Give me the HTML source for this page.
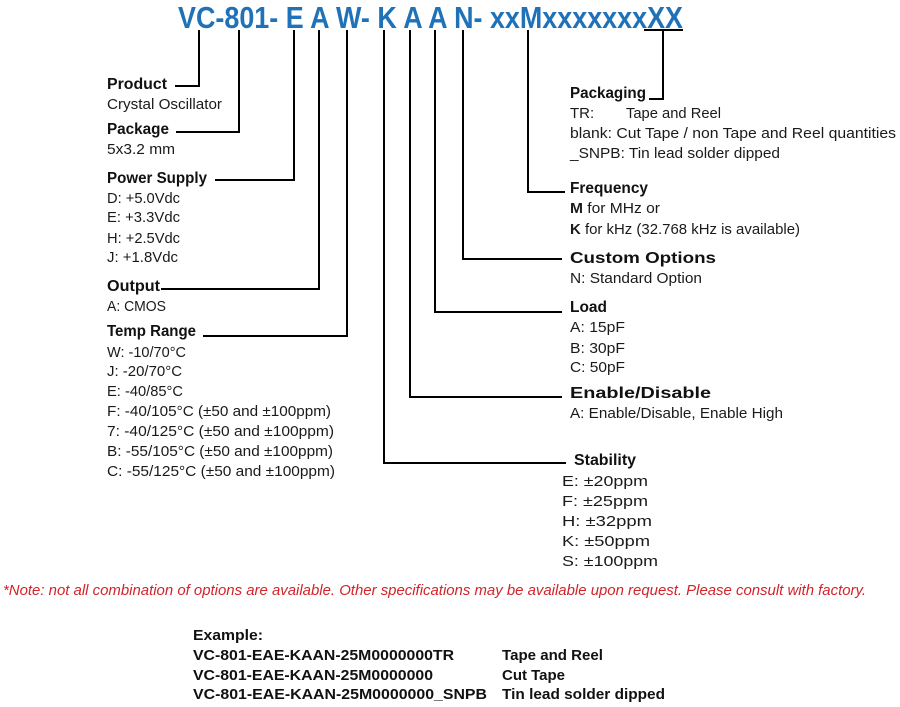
<!DOCTYPE html>
<html><head><meta charset="utf-8"><style>
html,body{margin:0;padding:0;background:#fff;width:900px;height:707px;overflow:hidden}
svg{display:block}
text{font-family:"Liberation Sans",Arial,sans-serif;font-size:15px;fill:#1a1a1a}
.b{font-weight:bold;font-size:15.5px;fill:#111}
.eb{font-weight:bold;font-size:14.5px;fill:#111}
</style></head><body>
<svg width="900" height="707" viewBox="0 0 900 707">
<text x="178" y="28" style="font-size:31px;font-weight:bold;fill:#1f72b8" textLength="505" lengthAdjust="spacingAndGlyphs">VC-801- E A W- K A A N- xxMxxxxxxxXX</text>
<g stroke="#000" stroke-width="2" fill="none">
<polyline points="199,30 199,86 175,86"/>
<polyline points="239,30 239,132 176,132"/>
<polyline points="294,30 294,180 215,180"/>
<polyline points="319,30 319,289 161,289"/>
<polyline points="347,30 347,336 203,336"/>
<polyline points="384,30 384,463 566,463"/>
<polyline points="410,30 410,397 562,397"/>
<polyline points="435,30 435,312 562,312"/>
<polyline points="463,30 463,259 562,259"/>
<polyline points="528,30 528,192 565,192"/>
<line x1="644" y1="30" x2="683" y2="30"/>
<polyline points="663,30 663,99 649,99"/>
</g>
<text class="b" x="107" y="89" textLength="60" lengthAdjust="spacingAndGlyphs">Product</text>
<text x="107" y="109" textLength="115" lengthAdjust="spacingAndGlyphs">Crystal Oscillator</text>
<text class="b" x="107" y="134" textLength="62" lengthAdjust="spacingAndGlyphs">Package</text>
<text x="107" y="154" textLength="68" lengthAdjust="spacingAndGlyphs">5x3.2 mm</text>
<text class="b" x="107" y="183" textLength="100" lengthAdjust="spacingAndGlyphs">Power Supply</text>
<text x="107" y="203" textLength="73" lengthAdjust="spacingAndGlyphs">D: +5.0Vdc</text>
<text x="107" y="222" textLength="73" lengthAdjust="spacingAndGlyphs">E: +3.3Vdc</text>
<text x="107" y="243" textLength="73" lengthAdjust="spacingAndGlyphs">H: +2.5Vdc</text>
<text x="107" y="262" textLength="71" lengthAdjust="spacingAndGlyphs">J: +1.8Vdc</text>
<text class="b" x="107" y="291" textLength="53" lengthAdjust="spacingAndGlyphs">Output</text>
<text x="107" y="311" textLength="59" lengthAdjust="spacingAndGlyphs">A: CMOS</text>
<text class="b" x="107" y="336" textLength="89" lengthAdjust="spacingAndGlyphs">Temp Range</text>
<text x="107" y="357" textLength="79" lengthAdjust="spacingAndGlyphs">W: -10/70°C</text>
<text x="107" y="376" textLength="75" lengthAdjust="spacingAndGlyphs">J:  -20/70°C</text>
<text x="107" y="396" textLength="76" lengthAdjust="spacingAndGlyphs">E:  -40/85°C</text>
<text x="107" y="416" textLength="224" lengthAdjust="spacingAndGlyphs">F:  -40/105°C (±50 and ±100ppm)</text>
<text x="107" y="436" textLength="227" lengthAdjust="spacingAndGlyphs">7:  -40/125°C (±50 and ±100ppm)</text>
<text x="107" y="456" textLength="226" lengthAdjust="spacingAndGlyphs">B:  -55/105°C (±50 and ±100ppm)</text>
<text x="107" y="476" textLength="228" lengthAdjust="spacingAndGlyphs">C:  -55/125°C (±50 and ±100ppm)</text>
<text class="b" x="570" y="98" textLength="76" lengthAdjust="spacingAndGlyphs">Packaging</text>
<text x="570" y="118">TR:</text>
<text x="626" y="118" textLength="95" lengthAdjust="spacingAndGlyphs">Tape and Reel</text>
<text x="570" y="138" textLength="326" lengthAdjust="spacingAndGlyphs">blank:  Cut Tape / non Tape and Reel quantities</text>
<text x="570" y="158" textLength="210" lengthAdjust="spacingAndGlyphs">_SNPB: Tin lead solder dipped</text>
<text class="b" x="570" y="193" textLength="78" lengthAdjust="spacingAndGlyphs">Frequency</text>
<text x="570" y="213" textLength="90" lengthAdjust="spacingAndGlyphs"><tspan style="font-weight:bold">M</tspan> for MHz or</text>
<text x="570" y="234" textLength="230" lengthAdjust="spacingAndGlyphs"><tspan style="font-weight:bold">K</tspan> for kHz (32.768 kHz is available)</text>
<text class="b" x="570" y="263" textLength="146" lengthAdjust="spacingAndGlyphs">Custom Options</text>
<text x="570" y="283" textLength="132" lengthAdjust="spacingAndGlyphs">N: Standard Option</text>
<text class="b" x="570" y="312" textLength="37" lengthAdjust="spacingAndGlyphs">Load</text>
<text x="570" y="332" textLength="55" lengthAdjust="spacingAndGlyphs">A: 15pF</text>
<text x="570" y="353" textLength="55" lengthAdjust="spacingAndGlyphs">B: 30pF</text>
<text x="570" y="372" textLength="55" lengthAdjust="spacingAndGlyphs">C: 50pF</text>
<text class="b" x="570" y="398" textLength="141" lengthAdjust="spacingAndGlyphs">Enable/Disable</text>
<text x="570" y="418" textLength="213" lengthAdjust="spacingAndGlyphs">A: Enable/Disable, Enable High</text>
<text class="b" x="574" y="465" textLength="62" lengthAdjust="spacingAndGlyphs">Stability</text>
<text x="562" y="486" textLength="86" lengthAdjust="spacingAndGlyphs">E: ±20ppm</text>
<text x="562" y="506" textLength="86" lengthAdjust="spacingAndGlyphs">F: ±25ppm</text>
<text x="562" y="526" textLength="90" lengthAdjust="spacingAndGlyphs">H: ±32ppm</text>
<text x="562" y="546" textLength="88" lengthAdjust="spacingAndGlyphs">K: ±50ppm</text>
<text x="562" y="566" textLength="96" lengthAdjust="spacingAndGlyphs">S: ±100ppm</text>
<text x="3" y="595" style="font-style:italic;fill:#d2232a" textLength="863" lengthAdjust="spacingAndGlyphs">*Note: not all combination of options are available. Other specifications may be available upon request. Please consult with factory.</text>
<text class="eb" x="193" y="640" textLength="70" lengthAdjust="spacingAndGlyphs">Example:</text>
<text class="eb" x="193" y="660" textLength="261" lengthAdjust="spacingAndGlyphs">VC-801-EAE-KAAN-25M0000000TR</text>
<text class="eb" x="193" y="680" textLength="240" lengthAdjust="spacingAndGlyphs">VC-801-EAE-KAAN-25M0000000</text>
<text class="eb" x="193" y="699" textLength="294" lengthAdjust="spacingAndGlyphs">VC-801-EAE-KAAN-25M0000000_SNPB</text>
<text class="eb" x="502" y="660" textLength="101" lengthAdjust="spacingAndGlyphs">Tape and Reel</text>
<text class="eb" x="502" y="680" textLength="63" lengthAdjust="spacingAndGlyphs">Cut Tape</text>
<text class="eb" x="502" y="699" textLength="163" lengthAdjust="spacingAndGlyphs">Tin lead solder dipped</text>
</svg>
</body></html>
